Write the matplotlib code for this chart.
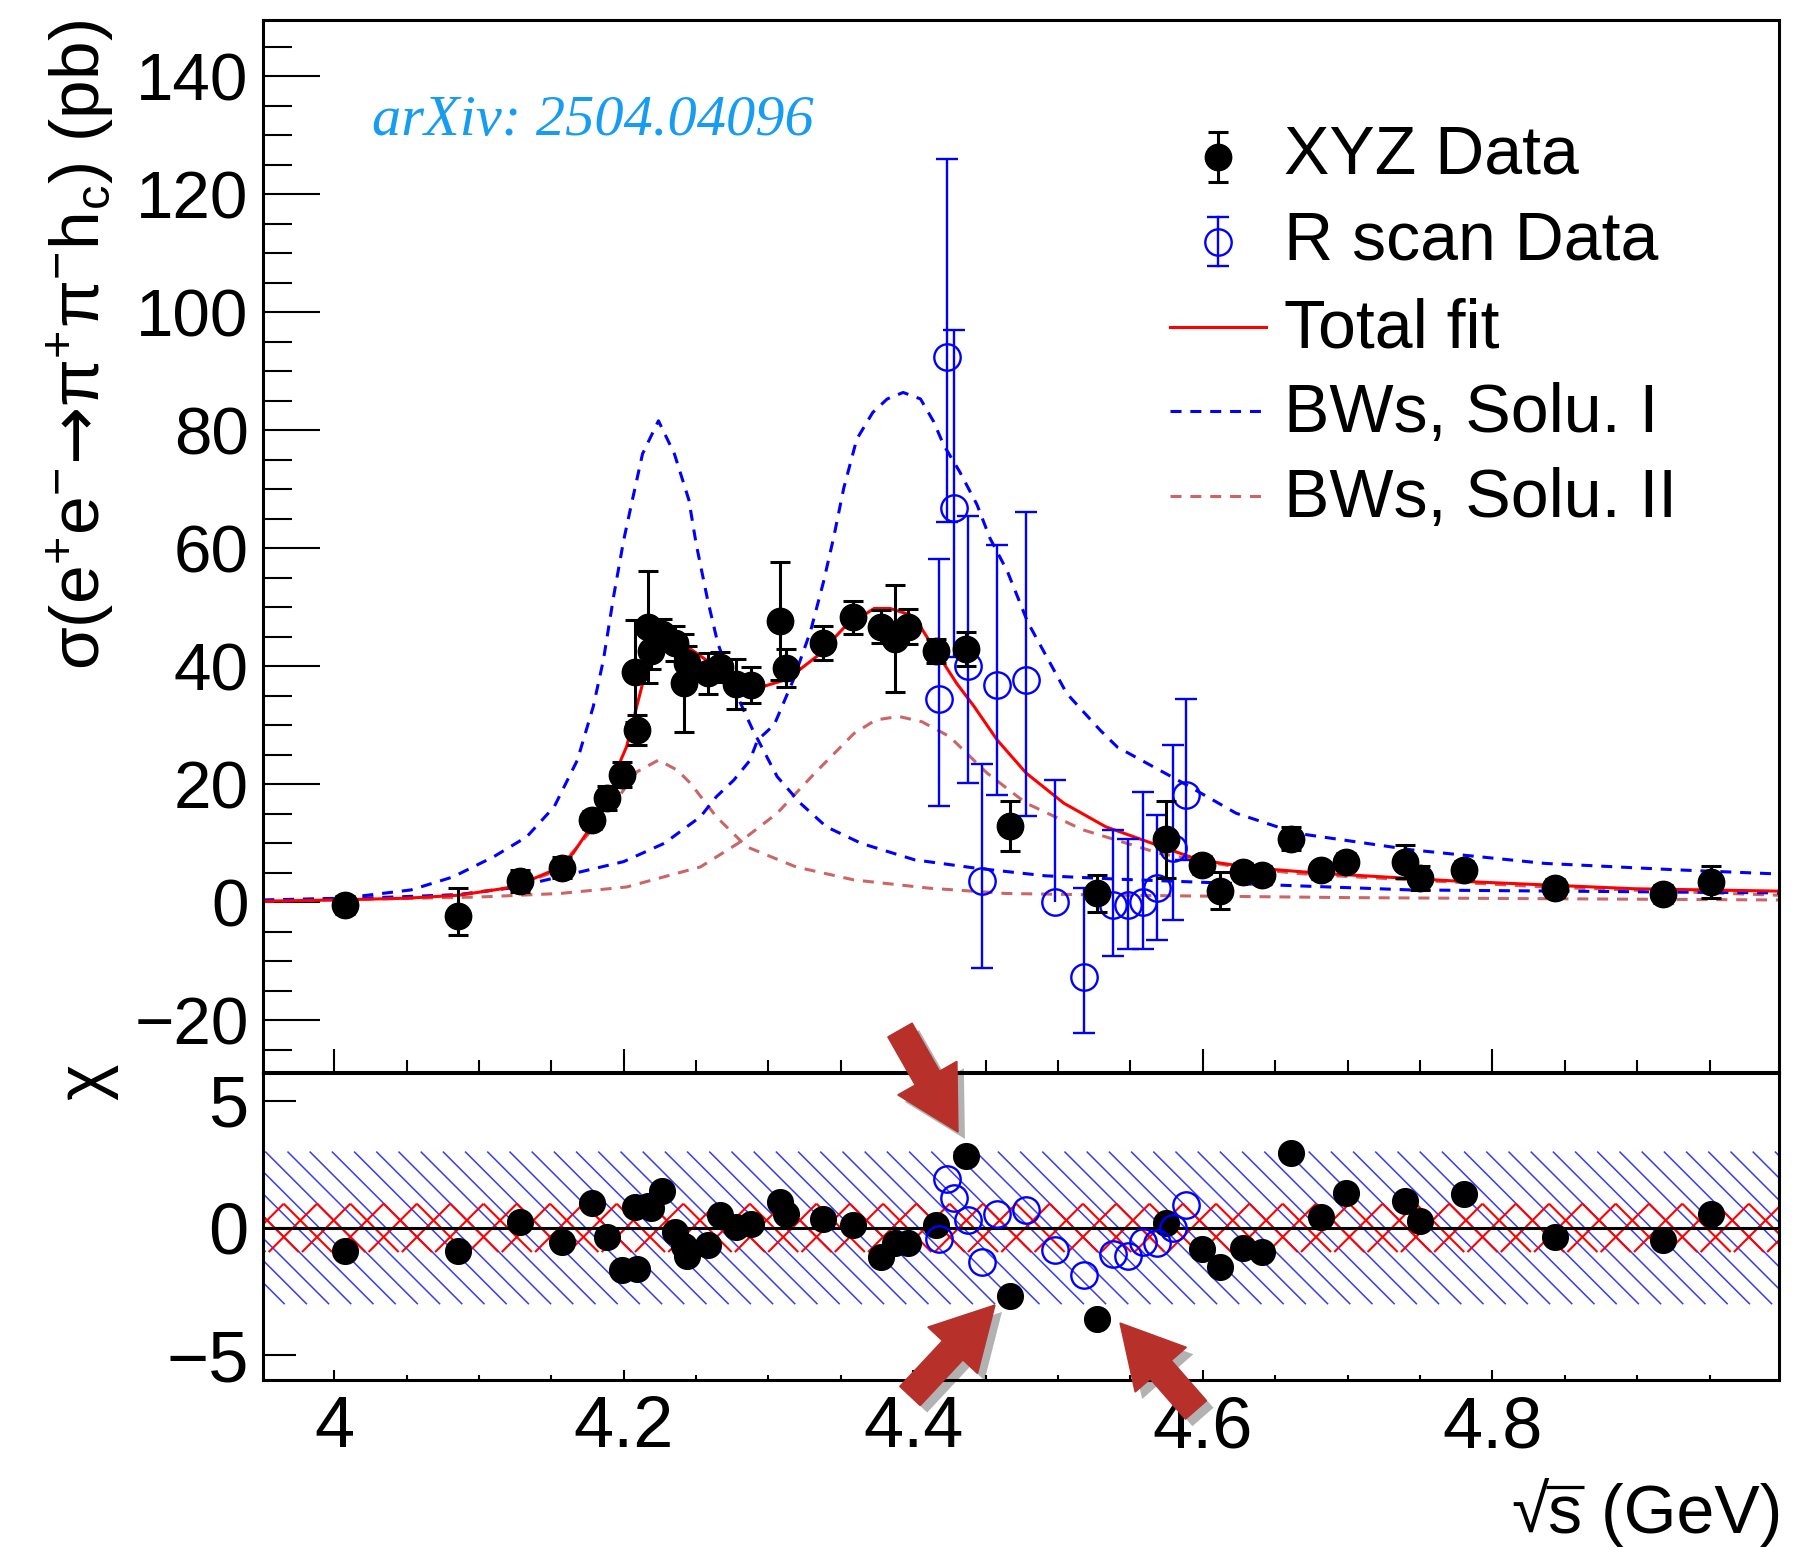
import numpy as np
import matplotlib
matplotlib.use("Agg")
import matplotlib.pyplot as plt
from matplotlib.lines import Line2D
from matplotlib.patches import FancyArrow
from matplotlib.collections import LineCollection
from matplotlib.ticker import MultipleLocator, FixedLocator, FuncFormatter, NullLocator
import matplotlib.patheffects as pe

plt.rcParams["font.family"] = ["Liberation Sans", "DejaVu Sans"]
plt.rcParams["mathtext.fontset"] = "custom"
plt.rcParams["mathtext.rm"] = "Liberation Sans"
plt.rcParams["mathtext.it"] = "Liberation Sans"
plt.rcParams["mathtext.sf"] = "DejaVu Sans"
plt.rcParams["mathtext.bf"] = "Liberation Sans:bold"
plt.rcParams["mathtext.default"] = "rm"
plt.rcParams["mathtext.fallback"] = "stixsans"

# ---------------- XYZ data sets ----------------
xyz_energy = [4.0076, 4.0855, 4.1285, 4.1574, 4.1784, 4.1888, 4.1989, 4.2077, 4.2092,
              4.2171, 4.2187, 4.2263, 4.2357, 4.2417, 4.2438, 4.2580, 4.2668, 4.2777,
              4.2879, 4.3079, 4.3121, 4.3374, 4.3583, 4.3774, 4.3874, 4.3964, 4.4156,
              4.4362, 4.4671, 4.5271, 4.5745, 4.5995, 4.6119, 4.6280, 4.6409, 4.6612,
              4.6819, 4.6988, 4.7397, 4.7500, 4.7805, 4.8431, 4.9180, 4.9509]
xyz_sigma = [-0.5, -2.3, 3.6, 5.9, 13.9, 17.7, 21.6, 39.0, 29.2,
             46.7, 42.6, 45.5, 43.9, 37.2, 40.5, 38.8, 39.9, 37.0,
             36.8, 47.6, 39.7, 43.9, 48.3, 46.7, 44.7, 46.7, 42.6,
             42.9, 12.9, 1.5, 10.7, 6.3, 2.0, 5.2, 4.6, 10.8,
             5.4, 6.9, 6.9, 4.1, 5.5, 2.4, 1.4, 3.5]
xyz_err_low = [1.5, 3.2, 1.8, 1.8, 1.5, 2.0, 2.1, 8.5, 2.6,
               9.5, 3.0, 2.5, 3.0, 8.3, 3.0, 3.5, 2.5, 4.2,
               3.0, 10.0, 3.2, 2.9, 2.8, 2.8, 9.0, 3.0, 2.0,
               2.9, 4.2, 3.2, 6.5, 1.5, 3.2, 1.5, 1.5, 1.9,
               1.5, 1.5, 2.8, 2.0, 1.5, 1.5, 1.5, 2.7]
xyz_err_high = [1.5, 4.7, 1.8, 1.8, 1.5, 2.0, 2.1, 8.8, 2.6,
                9.5, 3.0, 2.5, 3.0, 8.3, 3.0, 3.5, 2.5, 4.2,
                3.0, 10.0, 3.2, 2.9, 2.8, 2.8, 9.0, 3.0, 2.0,
                2.9, 4.2, 3.2, 6.5, 1.5, 3.2, 1.5, 1.5, 1.9,
                1.5, 1.5, 2.8, 2.0, 1.5, 1.5, 1.5, 2.7]
xyz_chi = [-0.92, -0.92, 0.25, -0.55, 0.96, -0.35, -1.66, 0.83, -1.62,
           0.85, 0.80, 1.43, -0.15, -0.73, -1.10, -0.68, 0.50, 0.04,
           0.15, 1.02, 0.56, 0.33, 0.10, -1.14, -0.61, -0.59, 0.10,
           2.84, -2.68, -3.60, 0.21, -0.84, -1.53, -0.79, -0.94, 2.95,
           0.41, 1.38, 1.06, 0.28, 1.35, -0.35, -0.48, 0.53]

# ---------------- R-scan data sets ----------------
rscan_energy = [4.4180, 4.4233, 4.4280, 4.4380, 4.4475, 4.4578, 4.4776, 4.4982,
                4.5180, 4.5379, 4.5480, 4.5588, 4.5683, 4.5794, 4.5881]
rscan_sigma = [34.5, 92.4, 66.9, 40.0, 3.6, 36.8, 37.7, 0.1,
               -12.6, -0.5, -0.5, 0.1, 2.4, 9.2, 18.2]
rscan_err_low = [18.2, 27.9, 25.3, 19.7, 14.7, 18.6, 23.1, 0.0,
                 9.6, 8.6, 7.4, 8.0, 8.8, 12.2, 11.0]
rscan_err_high = [23.6, 33.6, 30.1, 25.4, 19.8, 23.7, 28.4, 20.6,
                  15.0, 12.8, 11.3, 18.6, 12.4, 17.5, 16.3]
rscan_chi = [-0.42, 1.94, 1.19, 0.30, -1.34, 0.54, 0.70, -0.88,
             -1.86, -1.01, -1.10, -0.55, -0.61, -0.02, 0.89]

# ---------------- fit curves (sampled) ----------------
fit_energy = [3.951, 4.000, 4.050, 4.086, 4.124, 4.152, 4.165, 4.179, 4.193, 4.198,
              4.202, 4.209, 4.216, 4.223, 4.230, 4.237, 4.244, 4.255, 4.271, 4.285,
              4.294, 4.313, 4.334, 4.352, 4.373, 4.384, 4.398, 4.405, 4.416, 4.430,
              4.442, 4.458, 4.478, 4.504, 4.533, 4.565, 4.597, 4.636, 4.683, 4.775,
              4.898, 4.998]
fit_sigma = [0.2, 0.4, 0.7, 1.2, 2.6, 5.5, 8.3, 13.4, 19.6, 24.1,
             26.4, 33.2, 39.9, 44.5, 45.3, 44.6, 43.3, 41.4, 38.8, 36.9,
             36.4, 37.8, 41.8, 46.5, 49.8, 49.8, 48.7, 46.7, 42.4, 37.1,
             33.2, 27.5, 21.9, 16.8, 12.8, 10.0, 7.2, 5.8, 4.9, 3.6,
             2.3, 1.9]

bw1_sol1_energy = [3.951, 4.006, 4.053, 4.082, 4.110, 4.133, 4.152, 4.168, 4.179, 4.186,
                   4.193, 4.200, 4.206, 4.213, 4.224, 4.235, 4.245, 4.250, 4.258, 4.265,
                   4.277, 4.289, 4.306, 4.322, 4.340, 4.364, 4.401, 4.443, 4.491, 4.544,
                   4.610, 4.665, 4.744, 4.998]
bw1_sol1_sigma = [0.4, 0.7, 2.1, 4.3, 7.7, 11.1, 16.2, 24.1, 33.2, 41.1,
                  51.8, 61.4, 68.2, 76.0, 81.6, 76.0, 68.2, 60.8, 51.2, 43.9,
                  35.7, 29.3, 21.3, 16.8, 12.8, 10.0, 7.2, 5.8, 4.5, 3.9,
                  3.3, 2.8, 2.1, 1.6]

bw2_sol1_energy = [3.951, 4.018, 4.086, 4.124, 4.157, 4.200, 4.228, 4.253, 4.264, 4.276,
                   4.287, 4.2925, 4.304, 4.317, 4.329, 4.338, 4.345, 4.352, 4.361, 4.372,
                   4.382, 4.393, 4.405, 4.414, 4.421, 4.432, 4.444, 4.453, 4.465, 4.479,
                   4.506, 4.529, 4.541, 4.588, 4.623, 4.665, 4.744, 4.836, 4.928, 4.998]
bw2_sol1_sigma = [0.3, 0.7, 1.3, 2.5, 4.4, 6.9, 10.0, 14.5, 17.9, 20.7,
                  24.0, 27.5, 30.1, 37.6, 45.9, 54.3, 61.8, 70.2, 78.5, 83.0,
                  85.3, 86.4, 85.3, 81.5, 77.5, 73.0, 67.4, 61.7, 56.1, 47.5,
                  35.4, 29.2, 26.3, 20.0, 15.1, 11.7, 8.9, 6.6, 5.5, 4.8]

bw1_sol2_energy = [3.951, 4.050, 4.086, 4.124, 4.150, 4.164, 4.188, 4.205, 4.209, 4.224,
                   4.237, 4.246, 4.264, 4.285, 4.319, 4.359, 4.411, 4.464, 4.544, 4.700,
                   4.998]
bw1_sol2_sigma = [0.3, 0.8, 1.3, 2.6, 5.0, 8.3, 15.1, 20.7, 22.1, 24.1,
                  22.4, 20.2, 14.5, 9.4, 6.0, 3.8, 2.4, 1.5, 1.2, 0.8,
                  0.4]

bw2_sol2_energy = [3.951, 4.100, 4.156, 4.202, 4.253, 4.279, 4.306, 4.332, 4.359, 4.374,
                   4.390, 4.406, 4.425, 4.451, 4.478, 4.517, 4.570, 4.623, 4.665, 4.683,
                   4.836, 4.998]
bw2_sol2_sigma = [0.2, 0.9, 1.5, 2.6, 6.0, 10.0, 15.1, 21.9, 28.6, 30.9,
                  31.5, 30.6, 28.1, 21.9, 16.8, 12.3, 8.3, 6.0, 4.9, 4.6,
                  2.6, 1.2]

legend_labels = ["XYZ Data", "R scan Data", "Total fit", "BWs, Solu. I", "BWs, Solu. II"]
x_tick_values = [4.0, 4.2, 4.4, 4.6, 4.8]
sigma_tick_values = [-20, 0, 20, 40, 60, 80, 100, 120, 140]
chi_tick_values = [-5, 0, 5]

# ---------------- figure layout ----------------
W, H = 1797, 1547
fig = plt.figure(figsize=(W / 100, H / 100), dpi=100)


def fxy(px, py):
    return px / W, 1 - py / H


XMIN, XMAX = 3.9505, 4.998
left_px, right_px = 262.5, 1779.0
ax = fig.add_axes([left_px / W, 1 - 1071.7 / H, (right_px - left_px) / W, (1071.7 - 19.5) / H])
axr = fig.add_axes([left_px / W, 1 - 1380.0 / H, (right_px - left_px) / W, (1380.0 - 1072.7) / H])

BLUE = "#0000ff"
RED = "#ff0000"
BROWN = "#cc6666"
DASH = (3.6, 2.9)
LW = 2.2


def minus_fmt(v, pos):
    return f"{v:g}".replace("-", "\u2212")


for a in (ax, axr):
    a.set_xlim(XMIN, XMAX)
    for s in a.spines.values():
        s.set_linewidth(2.2)
    a.xaxis.set_major_locator(FixedLocator(x_tick_values))
    a.xaxis.set_minor_locator(MultipleLocator(0.05))
    a.xaxis.set_major_formatter(FuncFormatter(minus_fmt))
    a.yaxis.set_major_formatter(FuncFormatter(minus_fmt))

# ---------------- upper panel ----------------
ax.set_ylim(-28.7, 149.6)
ax.yaxis.set_major_locator(FixedLocator(sigma_tick_values))
ax.yaxis.set_minor_locator(MultipleLocator(5))
ax.tick_params(axis="x", which="major", direction="in", length=16.5, width=1.5,
               top=False, labelbottom=False)
ax.tick_params(axis="x", which="minor", direction="in", length=8.5, width=1.5, top=False)
ax.tick_params(axis="y", which="major", direction="in", length=41, width=1.5,
               right=False, labelsize=48.5, pad=10)
ax.tick_params(axis="y", which="minor", direction="in", length=21, width=1.5, right=False)

ax.plot(bw2_sol2_energy, bw2_sol2_sigma, color=BROWN, lw=LW, dashes=DASH, zorder=2)
ax.plot(bw1_sol2_energy, bw1_sol2_sigma, color=BROWN, lw=LW, dashes=DASH, zorder=2)
ax.plot(bw2_sol1_energy, bw2_sol1_sigma, color=BLUE, lw=LW, dashes=DASH, zorder=2)
ax.plot(bw1_sol1_energy, bw1_sol1_sigma, color=BLUE, lw=LW, dashes=DASH, zorder=2)
ax.plot(fit_energy, fit_sigma, color=RED, lw=LW, zorder=2.5)


def draw_points(axis, e, y, lo, hi, color, lw, cap, filled, z):
    e = np.asarray(e)
    y = np.asarray(y)
    lo = np.asarray(lo)
    hi = np.asarray(hi)
    axis.vlines(e, y - lo, y + hi, colors=color, lw=lw, zorder=z)
    up = hi > 0
    dn = lo > 0
    axis.plot(e[up], (y + hi)[up], ls="none", marker="_", ms=cap, mew=lw, color=color, zorder=z)
    axis.plot(e[dn], (y - lo)[dn], ls="none", marker="_", ms=cap, mew=lw, color=color, zorder=z)
    if filled:
        axis.plot(e, y, ls="none", marker="o", ms=19, color=color, zorder=z + 0.1)
    else:
        axis.plot(e, y, ls="none", marker="o", ms=19, mfc="none", mec=color, mew=1.7,
                  zorder=z + 0.1)


draw_points(ax, rscan_energy, rscan_sigma, rscan_err_low, rscan_err_high, BLUE, 1.7, 15.5, False, 3)
draw_points(ax, xyz_energy, xyz_sigma, xyz_err_low, xyz_err_high, "black", 2.2, 14.5, True, 4)

# ---------------- residual panel ----------------
CMIN, CMAX = -5.98, 6.1
axr.set_ylim(CMIN, CMAX)
axr.yaxis.set_major_locator(FixedLocator(chi_tick_values))
axr.yaxis.set_minor_locator(NullLocator())
axr.tick_params(axis="x", which="major", direction="in", length=7.5, width=1.5,
                top=False, labelsize=52, pad=11)
axr.tick_params(axis="x", which="minor", direction="in", length=3.8, width=1.5, top=False)
axr.tick_params(axis="y", which="major", direction="in", length=24, width=1.5,
                right=False, labelsize=52, pad=10)

pos = axr.get_position()
px_per_x = pos.width * W / (XMAX - XMIN)
px_per_chi = pos.height * H / (CMAX - CMIN)

# blue hatching over the +-3 band
band = 3.0
step = 22.2 / px_per_x
run = (2 * band * px_per_chi) / px_per_x
segs = []
xt = XMIN - run - step
while xt < XMAX + step:
    segs.append([(xt, band), (xt + run, -band)])
    xt += step
axr.add_collection(LineCollection(segs, colors="#3a3af5", linewidths=1.1, zorder=1))

# red cross hatching over the +-1 band
hb = 0.95
step_r = 33.3 / px_per_x
run_r = (2 * hb * px_per_chi) / px_per_x
segs = []
xv = XMIN + 21.2 / px_per_x - 3 * step_r
while xv < XMAX + run_r + step_r:
    segs.append([(xv, hb), (xv + run_r, -hb)])
    segs.append([(xv - run_r, -hb), (xv, hb)])
    xv += step_r
axr.add_collection(LineCollection(segs, colors=RED, linewidths=1.5, zorder=2))

axr.axhline(0, color="black", lw=2.2, zorder=3)
axr.plot(xyz_energy, xyz_chi, ls="none", marker="o", ms=18.5, color="black", zorder=4)
axr.plot(rscan_energy, rscan_chi, ls="none", marker="o", ms=19, mfc="none", mec=BLUE,
         mew=1.7, zorder=5)

# ---------------- axis titles ----------------
fig.text(*fxy(80, 19.5),
         "\u03c3(e$^{+}$e$^{-}\\mathsf{\u2192}$\u03c0$^{+}$\u03c0$^{-}$h$_{c}$) (pb)",
         rotation=90, ha="center", va="top", fontsize=50)
fig.text(*fxy(86, 1063), "\u03c7", rotation=90, ha="center", va="top", fontsize=50)

# sqrt(s) (GeV): radical glyph, text, and an overbar across the "s"
renderer = fig.canvas.get_renderer()
XLAB_FS = 49
t_rest = fig.text(*fxy(1782, 1533), "s (GeV)", ha="right", va="baseline", fontsize=XLAB_FS)
bb_rest = t_rest.get_window_extent(renderer)
t_s = fig.text(0, 0, "s", fontsize=XLAB_FS)
s_w = t_s.get_window_extent(renderer).width
t_s.remove()
t_rad = fig.text(bb_rest.x0 / W + 1.0 / W, 1 - 1533 / H, "\u221a", ha="right", va="baseline",
                 fontsize=XLAB_FS)
bb_rad = t_rad.get_window_extent(renderer)
bar_y = bb_rad.y1 - 3.5
fig.add_artist(Line2D([(bb_rad.x1 - 3) / W, (bb_rest.x0 + s_w + 2) / W],
                      [bar_y / H, bar_y / H], transform=fig.transFigure,
                      color="black", lw=2.3, solid_capstyle="butt"))

fig.text(*fxy(372.5, 135), "arXiv: 2504.04096", family="Liberation Serif", style="italic",
         fontsize=42, color="#169cf0", ha="left", va="baseline")

# ---------------- legend ----------------
tf = fig.transFigure
mx = 1218


def fl(xs, ys, **kw):
    fig.add_artist(Line2D([x / W for x in xs], [1 - y / H for y in ys], transform=tf, **kw))


fl([mx, mx], [132, 182], color="black", lw=2.2)
fl([mx, mx], [132, 182], ls="none", marker="_", ms=14.5, mew=2.2, color="black")
fl([mx], [156.5], ls="none", marker="o", ms=19, color="black")
fl([mx, mx], [217, 266], color=BLUE, lw=1.7)
fl([mx, mx], [217, 266], ls="none", marker="_", ms=15.5, mew=1.7, color=BLUE)
fl([mx], [242], ls="none", marker="o", ms=19, mfc="none", mec=BLUE, mew=1.7)
fl([1170, 1266], [326.7, 326.7], color=RED, lw=LW)
fl([1170, 1266], [411.3, 411.3], color=BLUE, lw=LW, dashes=DASH)
fl([1170, 1266], [495.8, 495.8], color=BROWN, lw=LW, dashes=DASH)

for lab, yb in zip(legend_labels, [174, 260, 348, 432, 517]):
    fig.text(*fxy(1283.5, yb), lab, fontsize=49, ha="left", va="baseline")

# ---------------- highlight arrows ----------------
ARROW = "#b8302a"


def block_arrow(tail, tip):
    x0, y0 = tail[0] / 100, (H - tail[1]) / 100
    x1, y1 = tip[0] / 100, (H - tip[1]) / 100
    arr = FancyArrow(x0, y0, x1 - x0, y1 - y0, width=0.28, head_width=0.68,
                     head_length=0.62, length_includes_head=True, color=ARROW,
                     transform=fig.dpi_scale_trans, zorder=30)
    arr.set_path_effects([pe.SimplePatchShadow(offset=(5, -5), shadow_rgbFace=(0, 0, 0),
                                               alpha=0.3), pe.Normal()])
    fig.add_artist(arr)


block_arrow((900, 1030), (958, 1132))
block_arrow((910, 1396), (995, 1305))
block_arrow((1196, 1410), (1120, 1323))

fig.savefig("out.png", dpi=100)
